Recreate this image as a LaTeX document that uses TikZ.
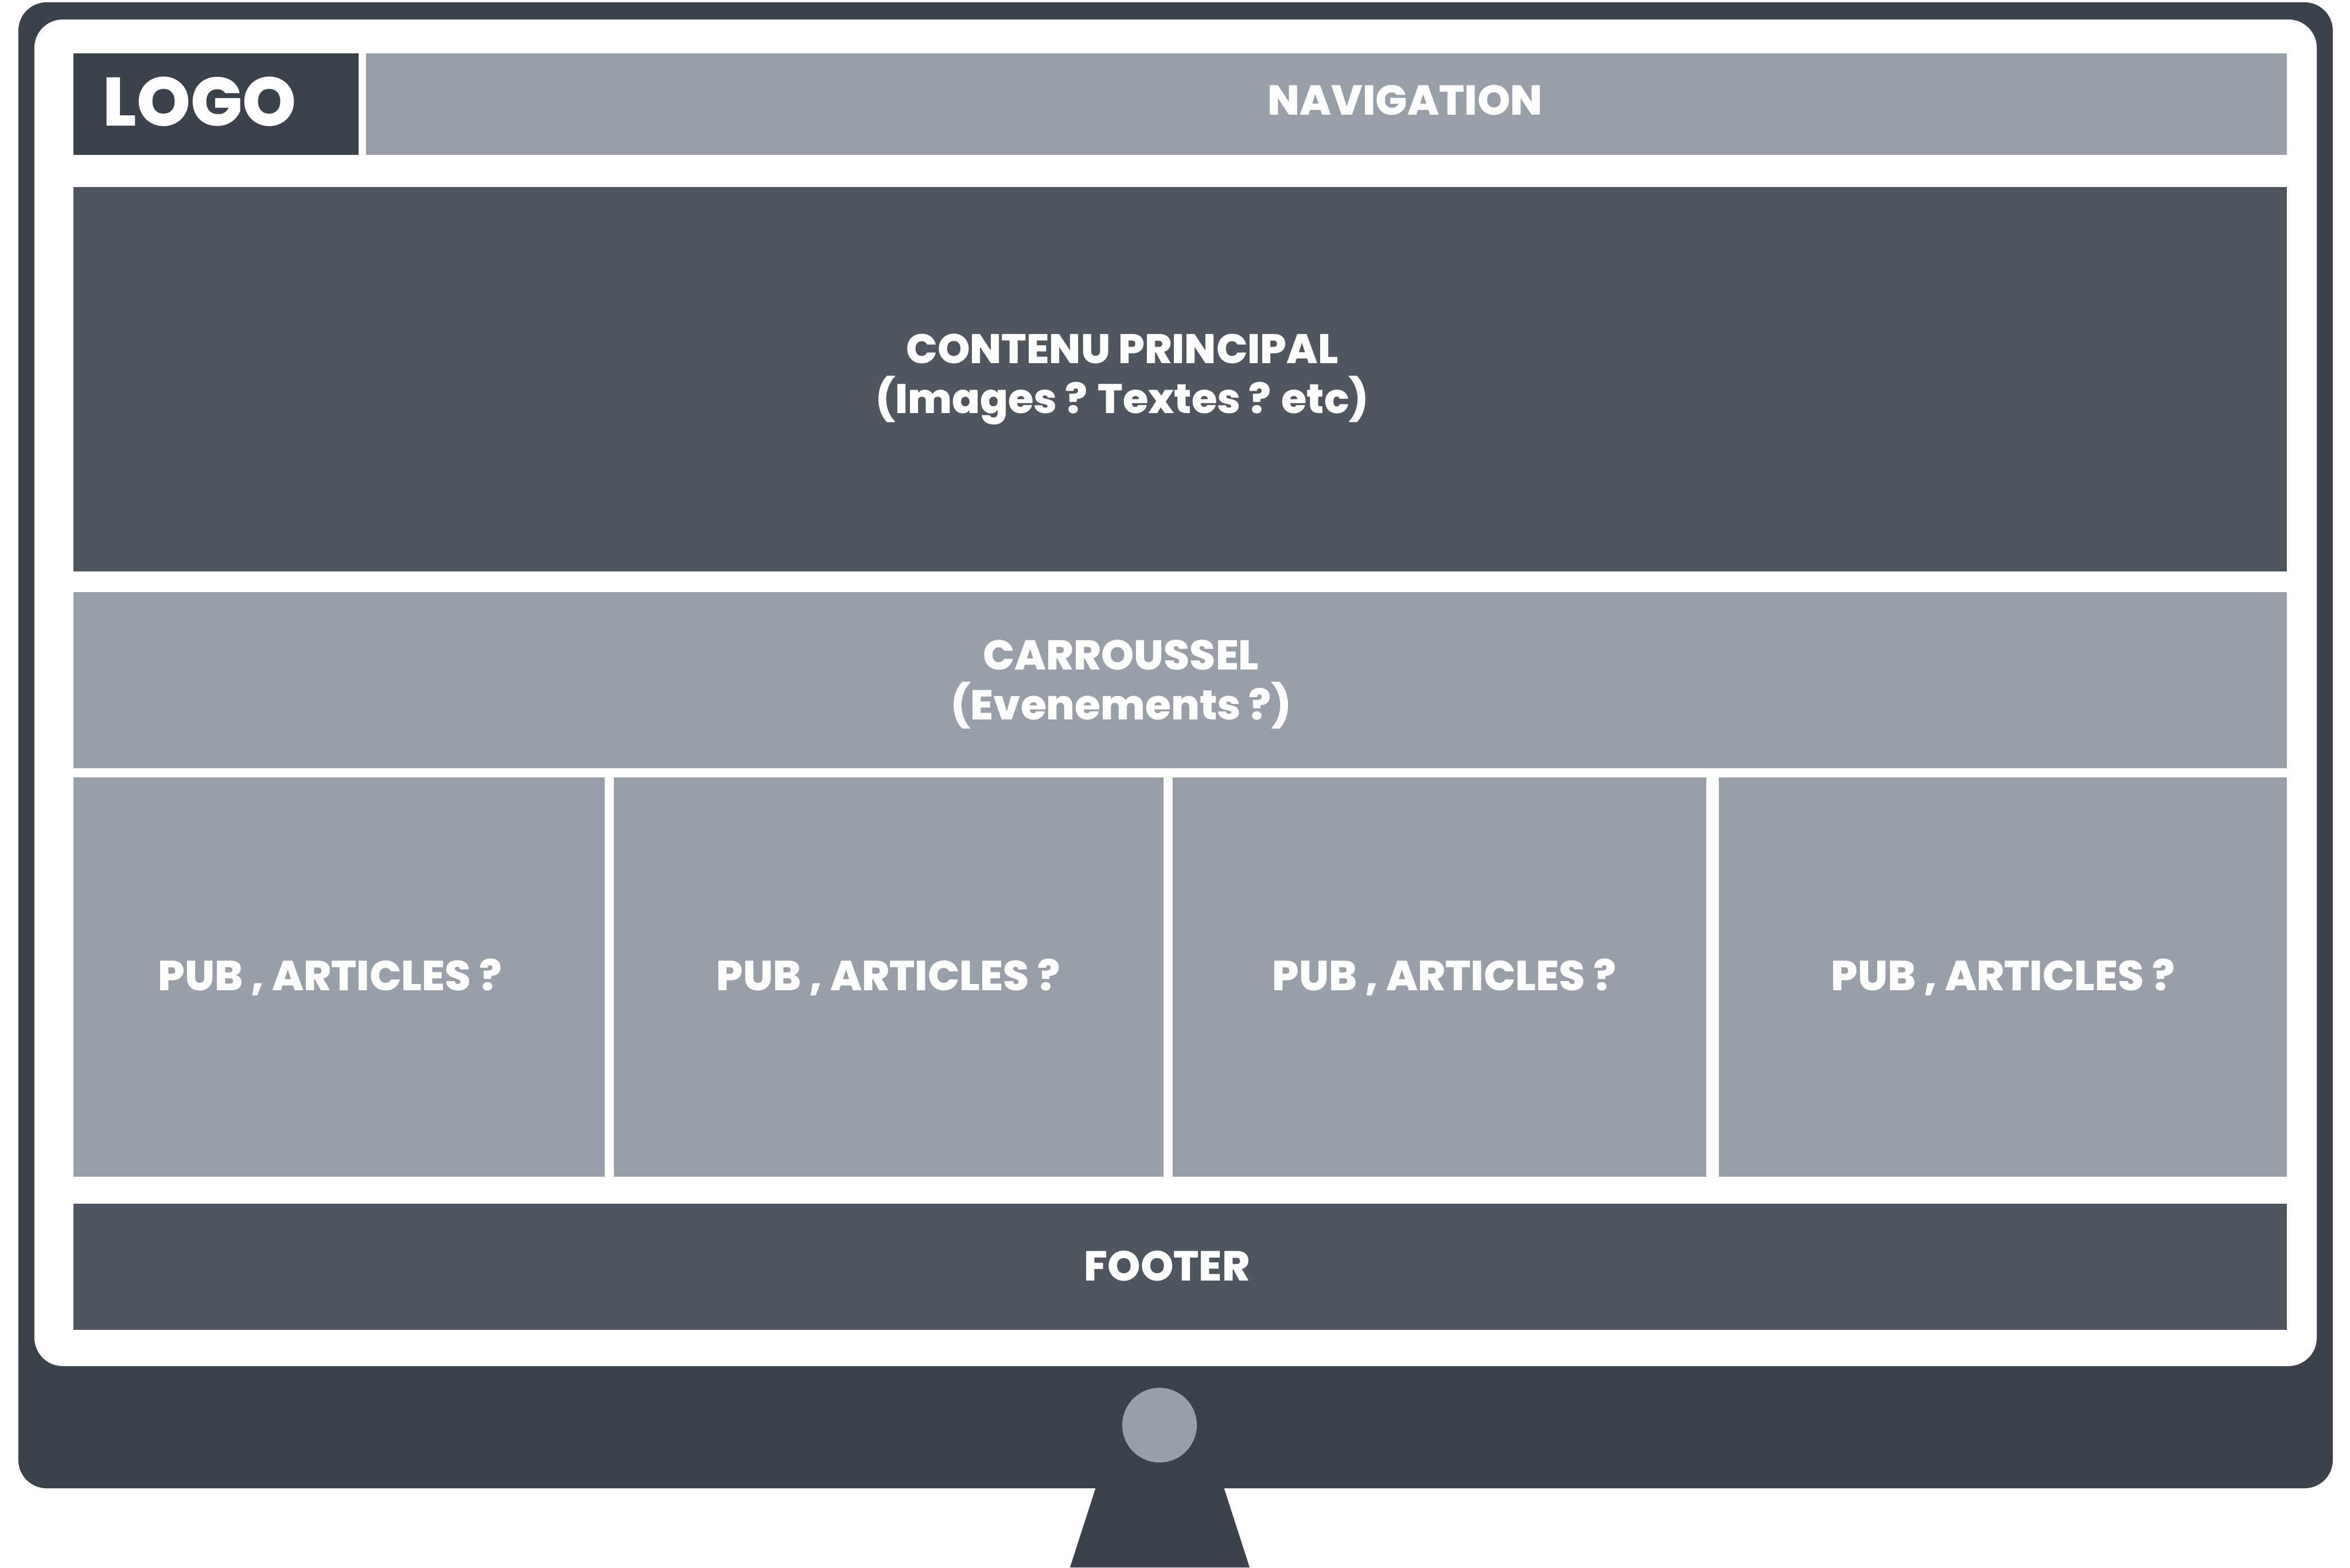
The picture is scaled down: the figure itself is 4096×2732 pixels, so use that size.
\documentclass[tikz,border=0pt]{standalone}
\usepackage{fontspec}
\setmainfont{Poppins}[BoldFont={Poppins ExtraBold}]
\usepackage{xcolor}
\definecolor{monitorgray}{HTML}{3B424C}
\definecolor{darkgray}{HTML}{4F5660}
\definecolor{lightgray}{HTML}{989FA9}

\begin{document}
\begin{tikzpicture}[x=0.01cm, y=-0.01cm,
        darkblock/.style={fill=darkgray},
        lightblock/.style={fill=lightgray},
        boxtext/.style={text=white, anchor=base, align=center, inner sep=0pt,
            font=\bfseries\fontsize{20.8}{24.7}\selectfont}]
        \useasboundingbox (0,0) rectangle (4096,2732);

        % Monitor
        \fill[monitorgray] (1914,2580) -- (2129,2580) -- (2178,2732) -- (1865,2732) -- cycle;
        \fill[monitorgray, rounded corners=14pt] (32,4) rectangle (4066,2594);
        \fill[white, rounded corners=14pt] (60,34) rectangle (4038,2381);
        \fill[lightblock] (2021,2484) circle (65);

        % Header
        \fill[monitorgray] (128,93) rectangle (625,270);
        \fill[lightblock] (638,93) rectangle (3986,270);
        \node[boxtext, font=\bfseries\fontsize{34}{38}\selectfont] (logo) at (348,219) {LOGO};
        \node[boxtext] (nav) at (2449,200.7) {NAVIGATION};

        % Main content
        \fill[darkblock] (128,326) rectangle (3986,996);
        \node[boxtext, font=\bfseries\fontsize{20.5}{24.7}\selectfont] (contenu) at (1956,720)
            {CONTENU PRINCIPAL\\(Images ? Textes ? etc)};

        % Carousel
        \fill[lightblock] (128,1032) rectangle (3986,1339);
        \node[boxtext, font=\bfseries\fontsize{20.7}{24.5}\selectfont] (carrousel) at (1954,1254)
            {CARROUSSEL\\(Evenements ?)};

        % Pub blocks
        \fill[lightblock] (128,1355) rectangle (1054,2051);
        \fill[lightblock] (1070,1355) rectangle (2028,2051);
        \fill[lightblock] (2044,1355) rectangle (2974,2051);
        \fill[lightblock] (2996,1355) rectangle (3986,2051);
        \node[boxtext] (pub1) at (575,1726.7) {PUB , ARTICLES ?};
        \node[boxtext] (pub2) at (1548,1726.7) {PUB , ARTICLES ?};
        \node[boxtext] (pub3) at (2517,1726.7) {PUB , ARTICLES ?};
        \node[boxtext] (pub4) at (3491,1726.7) {PUB , ARTICLES ?};

        % Footer
        \fill[darkblock] (128,2098) rectangle (3986,2318);
        \node[boxtext] (footer) at (2034,2232.7) {FOOTER};
    \end{tikzpicture}
\end{document}
